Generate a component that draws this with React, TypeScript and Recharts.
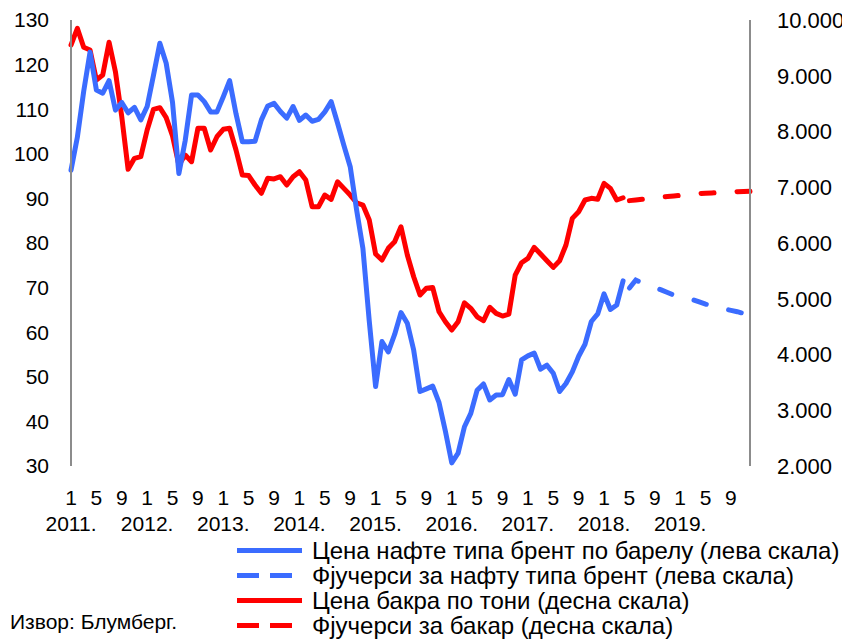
import React from 'react';
import { LineChart, Line, XAxis, YAxis, Legend } from 'recharts';

// ---- tick labels ----
const yearLabels = ['2011.', '2012.', '2013.', '2014.', '2015.', '2016.', '2017.', '2018.', '2019.'];
const monthTickValues = [1, 5, 9];
const leftTicks = [30, 40, 50, 60, 70, 80, 90, 100, 110, 120, 130];
const rightTicks = [2000, 3000, 4000, 5000, 6000, 7000, 8000, 9000, 10000];

// ---- series (monthly, from Jan 2011) ----
// Brent, USD per barrel, Jan 2011 - Apr 2018
const brentPrice = [
  96.3, 103.7, 114.0, 122.8, 114.3, 113.6, 116.4, 109.8, 111.5, 109.2, 110.4, 107.6,
  110.6, 117.6, 124.8, 120.3, 111.5, 95.6, 103.0, 113.2, 113.2, 111.7, 109.4, 109.4,
  112.8, 116.4, 109.0, 102.7, 102.7, 102.8, 107.6, 110.7, 111.3, 109.5, 108.0, 110.6,
  107.5, 108.7, 107.3, 107.7, 109.4, 111.7, 106.9, 101.9, 97.1, 87.5, 78.8, 62.5,
  47.8, 57.9, 55.6, 59.5, 64.4, 62.0, 56.0, 46.7, 47.3, 47.9, 44.2, 37.8,
  30.7, 32.9, 38.8, 41.8, 47.0, 48.4, 44.8, 45.9, 46.0, 49.4, 46.1, 53.8,
  54.7, 55.3, 51.7, 52.6, 50.8, 46.7, 48.5, 51.1, 54.6, 57.3, 62.4, 64.1,
  68.6, 65.1, 66.1, 71.5,
];
// Brent futures, May 2018 - Dec 2019
const brentFutures = [
  69.9, 71.7, 71.0, 70.5, 70.0, 69.5, 68.9, 68.3, 68.0, 67.6,
  67.3, 66.8, 66.3, 65.9, 65.6, 65.2, 64.9, 64.6, 64.2, 63.9,
];
// Copper, USD per tonne, Jan 2011 - Apr 2018
const copperPrice = [
  9551, 9850, 9510, 9462, 8924, 9013, 9600, 9073, 8265, 7321, 7519, 7548,
  8027, 8398, 8427, 8250, 7920, 7399, 7578, 7458, 8057, 8057, 7668, 7906,
  8039, 8057, 7668, 7219, 7209, 7040, 6891, 7160, 7150, 7189, 7040, 7189,
  7278, 7130, 6651, 6651, 6860, 6783, 7099, 6980, 6860, 6722, 6681, 6412,
  5802, 5694, 5904, 6023, 6292, 5784, 5395, 5067, 5187, 5200, 4767, 4588,
  4439, 4588, 4928, 4828, 4677, 4606, 4846, 4738, 4690, 4726, 5425, 5646,
  5724, 5922, 5802, 5682, 5563, 5682, 5964, 6442, 6561, 6771, 6801, 6784,
  7070, 6980, 6771, 6812,
];
// Copper futures, May 2018 - Dec 2019
const copperFutures = [
  6760, 6772, 6783, 6795, 6808, 6822, 6835, 6845, 6853, 6862,
  6876, 6888, 6893, 6899, 6904, 6910, 6917, 6921, 6924, 6927,
];

const legendItems = [
  { label: 'Цена нафте типа брент по барелу (лева скала)', color: '#3B6CFF', dashed: false },
  { label: 'Фјучерси за нафту типа брент (лева скала)', color: '#3B6CFF', dashed: true },
  { label: 'Цена бакра по тони (десна скала)', color: '#FF0000', dashed: false },
  { label: 'Фјучерси за бакар (десна скала)', color: '#FF0000', dashed: true },
];
const sourceText = 'Извор: Блумберг.';

const BLUE = '#3B6CFF';
const RED = '#FF0000';
const AXIS = '#8C8C8C';
const FONT = '"Liberation Sans", Arial, sans-serif';

const N = brentPrice.length + brentFutures.length;
const FUT = brentPrice.length;

const data = Array.from({ length: N }, (_, i) => ({
  i,
  brent: i < FUT ? brentPrice[i] : null,
  brentF: i >= FUT ? brentFutures[i - FUT] : null,
  copper: i < FUT ? copperPrice[i] : null,
  copperF: i >= FUT ? copperFutures[i - FUT] : null,
}));

const xTicks = data.map((d) => d.i).filter((i) => monthTickValues.includes((i % 12) + 1));

const fmtThousands = (v: number) => {
  const th = Math.floor(v / 1000);
  const rest = v % 1000;
  return `${th}.${String(rest).padStart(3, '0')}`;
};

const XTick = (props: any) => {
  const { x, y, payload } = props;
  const i = payload.value as number;
  const m = (i % 12) + 1;
  const yi = Math.floor(i / 12);
  return (
    <g>
      <text x={x} y={y + 31} textAnchor="middle" dominantBaseline="central" fontSize={21} fill="#000" fontFamily={FONT}>
        {m}
      </text>
      {m === 1 && (
        <text x={x} y={y + 57} textAnchor="middle" dominantBaseline="central" fontSize={21} fill="#000" fontFamily={FONT}>
          {yearLabels[yi]}
        </text>
      )}
    </g>
  );
};

const LegendContent = () => (
  <div style={{ fontFamily: FONT, fontSize: 24, color: '#000' }}>
    {legendItems.map((it) => (
      <div key={it.label} style={{ display: 'flex', alignItems: 'center', height: 25, whiteSpace: 'nowrap' }}>
        <svg width={70} height={25} style={{ flex: 'none' }}>
          <line
            x1={0}
            x2={65}
            y1={12.5}
            y2={12.5}
            stroke={it.color}
            strokeWidth={5}
            strokeDasharray={it.dashed ? '22 11' : undefined}
          />
        </svg>
        <span style={{ marginLeft: 5, lineHeight: '25px' }}>{it.label}</span>
      </div>
    ))}
  </div>
);

export default function App() {
  return (
    <div style={{ position: 'relative', width: 842, height: 631, fontFamily: FONT }}>
      <LineChart width={842} height={631} data={data} margin={{ top: 12, right: 0, bottom: 113, left: 0 }}>
        <XAxis
          dataKey="i"
          type="number"
          domain={[0, N - 1]}
          ticks={xTicks}
          interval={0}
          tick={<XTick />}
          axisLine={false}
          tickLine={false}
          tickSize={0}
          tickMargin={0}
          height={60}
        />
        <YAxis
          yAxisId="left"
          orientation="left"
          domain={[30, 130]}
          ticks={leftTicks}
          interval={0}
          width={63}
          axisLine={{ stroke: AXIS, strokeWidth: 2 }}
          tickLine={false}
          tickSize={0}
          tickMargin={22}
          tick={{ fontSize: 21, fill: '#000', fontFamily: FONT }}
        />
        <YAxis
          yAxisId="right"
          orientation="right"
          domain={[2000, 10000]}
          ticks={rightTicks}
          interval={0}
          width={100}
          axisLine={{ stroke: AXIS, strokeWidth: 2 }}
          tickLine={false}
          tickSize={0}
          tickMargin={27}
          tickFormatter={fmtThousands}
          tick={{ fontSize: 22, fill: '#000', fontFamily: FONT, textAnchor: 'start' }}
        />
        <Line yAxisId="right" dataKey="copper" stroke={RED} strokeWidth={5} dot={false} activeDot={false}
          strokeLinejoin="round" strokeLinecap="round" isAnimationActive={false} />
        <Line yAxisId="right" dataKey="copperF" stroke={RED} strokeWidth={5} dot={false} activeDot={false}
          strokeDasharray="13 23" strokeLinecap="round" isAnimationActive={false} />
        <Line yAxisId="left" dataKey="brent" stroke={BLUE} strokeWidth={5} dot={false} activeDot={false}
          strokeLinejoin="round" strokeLinecap="round" isAnimationActive={false} />
        <Line yAxisId="left" dataKey="brentF" stroke={BLUE} strokeWidth={5} dot={false} activeDot={false}
          strokeDasharray="13 23" strokeLinecap="round" isAnimationActive={false} />
        <Legend
          layout="vertical"
          align="center"
          verticalAlign="middle"
          content={<LegendContent />}
          wrapperStyle={{ left: 229, top: 530, width: 620, height: 100 }}
        />
      </LineChart>
      <div style={{ position: 'absolute', left: 2, top: 602, fontSize: 21, color: '#000', whiteSpace: 'nowrap', lineHeight: '24px' }}>
        {sourceText}
      </div>
    </div>
  );
}
